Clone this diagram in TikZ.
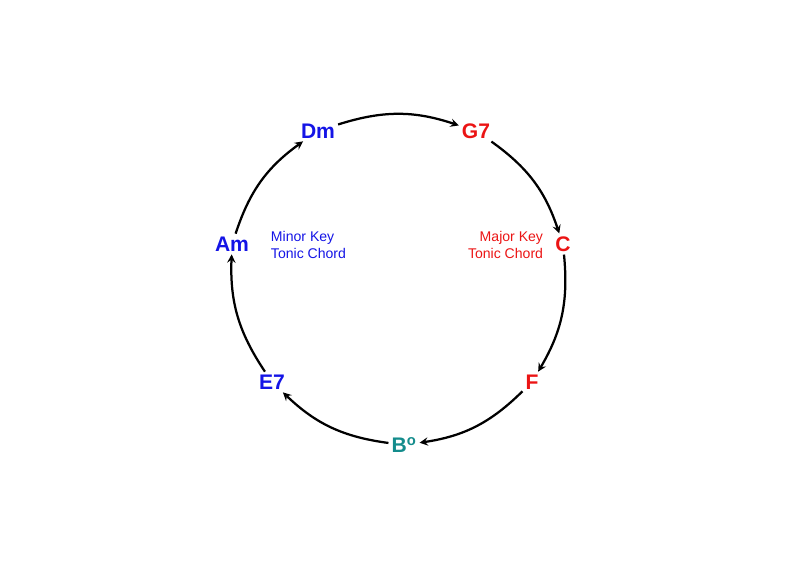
\documentclass[tikz,border=0pt]{standalone}
\usepackage{fontspec}
\setmainfont{Liberation Sans}
\definecolor{minblue}{RGB}{20,20,230}
\definecolor{majred}{RGB}{235,20,20}
\definecolor{dimteal}{RGB}{20,140,140}
\tikzset{
  chord/.style={font=\bfseries\fontsize{15}{17}\selectfont, inner sep=2pt},
  note/.style={font=\fontsize{10}{12}\selectfont, align=left},
  arc/.style={->, >=stealth, line width=1.6pt}
}
\begin{document}
\begin{tikzpicture}[x=0.025cm,y=-0.025cm]
        \useasboundingbox (0,0) rectangle (799,573);
        %Hợp âm
        \node[chord, minblue] (Dm) at (318,131) {Dm};
        \node[chord, majred] (G7) at (476,131) {G7};
        \node[chord, majred] (C) at (563,244) {C};
        \node[chord, majred] (F) at (532,382) {F};
        \node[chord, dimteal] (B) at (404,445) {B\textsuperscript{o}};
        \node[chord, minblue] (E7) at (272,382) {E7};
        \node[chord, minblue] (Am) at (232,244) {Am};
        %Ghi chú
        \node[note, minblue, anchor=west] (minor) at (266,245) {Minor Key\\Tonic Chord};
        \node[note, majred, anchor=east, align=right] (major) at (548,245) {Major Key\\Tonic Chord};
        %Mũi tên
        \foreach \a/\b in {Dm/G7, G7/C, C/F, F/B, B/E7, E7/Am, Am/Dm}
        {\draw[arc] (\a) to[bend left=18] (\b);}
\end{tikzpicture}
\end{document}
